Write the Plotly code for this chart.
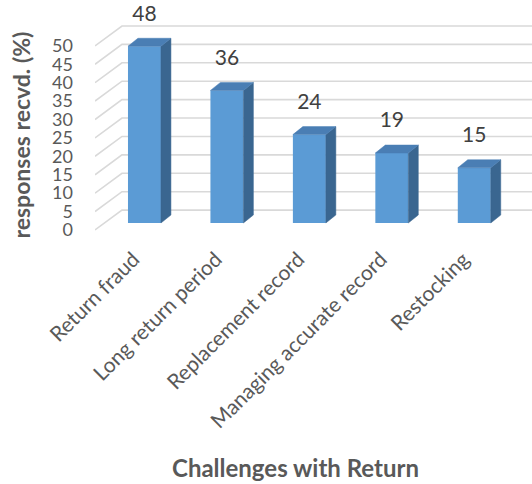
import plotly.graph_objects as go

# Survey results: share of respondents naming each return-handling challenge
categories = ["Return fraud", "Long return period", "Replacement record",
              "Managing accurate record", "Restocking"]
responses = [48, 36, 24, 19, 15]
y_ticks = [0, 5, 10, 15, 20, 25, 30, 35, 40, 45, 50]

# Pseudo-3D styling constants (in axis units)
BAR_W = 0.4          # front face width (category units)
BAR_BASE = 1.9       # front face sits a little above the front floor edge
DEPTH_X = 0.121      # receding depth of each column
DEPTH_Y = 2.17
WALL_X0 = -0.6       # front edge of the side wall
WALL_X1 = -0.273     # back edge of the side wall
WALL_DY = 5.4        # vertical shift of the back wall grid
X_MAX = 4.70
LABEL_GAP = 8.4

FRONT = "#5B9BD5"
TOP = "#4A7EB4"
SIDE = "#3A6690"
GRID = "#D9D9D9"
TEXT = "#595959"
FONT = "Lato"

idx = list(range(len(categories)))
fig = go.Figure()

# Gridlines (kept beneath the columns): short diagonal along the side wall,
# then straight across the back wall
grid_shapes = []
for v in y_ticks:
    path = (f"M {WALL_X0},{v} L {WALL_X1},{v + WALL_DY} "
            f"L {X_MAX},{v + WALL_DY}")
    grid_shapes.append(dict(type="path", path=path, xref="x", yref="y",
                            layer="below",
                            line=dict(color=GRID, width=1.6)))

# Right-hand side faces and top faces of the columns
for c, v in zip(idx, responses):
    r = c + BAR_W / 2
    l = c - BAR_W / 2
    top = BAR_BASE + v
    fig.add_trace(go.Scatter(
        x=[r, r + DEPTH_X, r + DEPTH_X, r, r],
        y=[BAR_BASE, BAR_BASE + DEPTH_Y, top + DEPTH_Y, top, BAR_BASE],
        mode="lines", fill="toself", fillcolor=SIDE,
        line=dict(width=0.5, color=SIDE), hoverinfo="skip", showlegend=False))
    fig.add_trace(go.Scatter(
        x=[l, l + DEPTH_X, r + DEPTH_X, r, l],
        y=[top, top + DEPTH_Y, top + DEPTH_Y, top, top],
        mode="lines", fill="toself", fillcolor=TOP,
        line=dict(width=0.5, color=TOP), hoverinfo="skip", showlegend=False))

# Value labels above each column
fig.add_trace(go.Scatter(
    x=idx, y=[v + BAR_BASE + LABEL_GAP for v in responses],
    mode="text", text=[str(v) for v in responses],
    textposition="middle center",
    textfont=dict(family=FONT, size=21, color="#404040"),
    hoverinfo="skip", showlegend=False))

# Front faces of the columns
fig.add_trace(go.Bar(
    x=idx, y=responses, base=BAR_BASE, width=BAR_W,
    marker=dict(color=FRONT, line=dict(width=0)),
    hoverinfo="skip", showlegend=False))

fig.update_layout(
    width=532, height=484,
    margin=dict(l=95, r=0, t=5, b=244),
    paper_bgcolor="white", plot_bgcolor="white",
    font=dict(family=FONT, color=TEXT),
    shapes=grid_shapes,
    xaxis=dict(range=[WALL_X0, X_MAX], tickmode="array", tickvals=idx,
               ticktext=categories, tickangle=-45, showgrid=False,
               zeroline=False, showline=False, ticks="",
               tickfont=dict(family=FONT, size=21, color=TEXT),
               ticklabelshift=-11, ticklabelstandoff=2),
    yaxis=dict(range=[-2.72, 61.1], tickmode="array", tickvals=y_ticks,
               showgrid=False, zeroline=False, showline=False, ticks="",
               tickfont=dict(family=FONT, size=18, color=TEXT),
               ticklabelstandoff=21),
    annotations=[
        dict(text="<b>responses recvd. (%)</b>", textangle=-90,
             xref="paper", yref="paper", x=-0.169, y=0.445,
             xanchor="center", yanchor="middle", showarrow=False,
             font=dict(family=FONT, size=23, color=TEXT)),
        dict(text="<b>Challenges with Return</b>",
             xref="paper", yref="paper", x=0.458, y=-0.97,
             xanchor="center", yanchor="middle", showarrow=False,
             font=dict(family=FONT, size=24, color=TEXT)),
    ],
)

fig.write_html("out.html")
